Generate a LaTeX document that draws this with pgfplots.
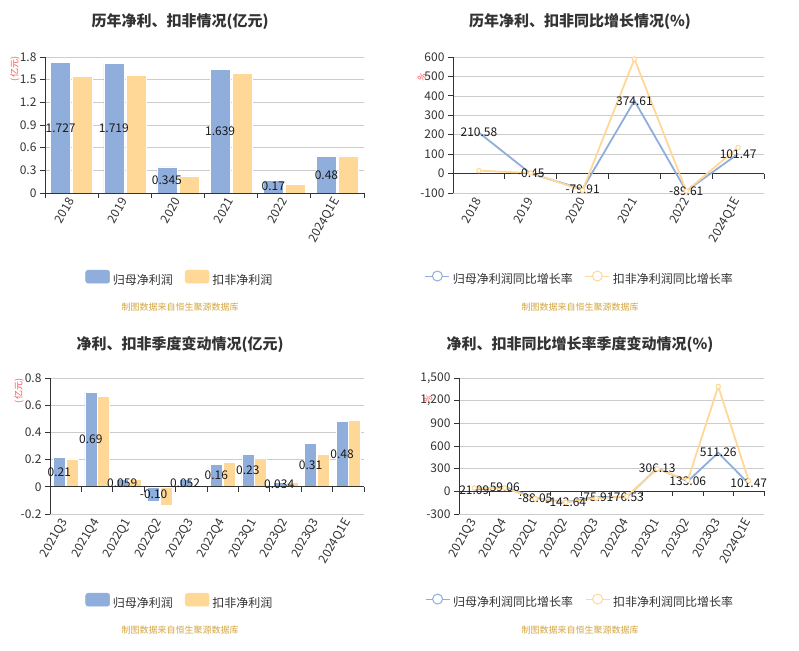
\documentclass[border=0pt]{standalone}
\usepackage{fontspec}
\usepackage{pgfplots}
\usepackage{pgfplotstable}
\pgfplotsset{compat=1.18}
\setmainfont{Noto Sans CJK SC}

\definecolor{cblue}{HTML}{8FAEDB}
\definecolor{corange}{HTML}{FFD898}
\definecolor{gridc}{HTML}{CCCCCC}
\definecolor{axisc}{HTML}{333333}
\definecolor{txt}{HTML}{333333}
\definecolor{labc}{HTML}{1A1A1A}
\definecolor{srcc}{HTML}{D4A43F}
\definecolor{unitc}{HTML}{FF4D4D}

\newcommand{\tk}{\fontsize{12}{14}\selectfont}
\newcommand{\ttl}{\fontsize{15}{18}\selectfont\bfseries}
\newcommand{\src}{\fontsize{9}{11}\selectfont}

% yearly profit (100m yuan)
\pgfplotstableread{
x a la b
0 1.727 1.727 1.548
1 1.719 1.719 1.557
2 0.345 0.345 0.225
3 1.639 1.639 1.579
4 0.17  0.17  0.115
5 0.48  0.48  0.49
}\yearly

% yearly growth (%)
\pgfplotstableread{
x a la b
0 210.58 210.58 15
1 -0.45  -0.45  3
2 -79.91 -79.91 -86
3 374.61 374.61 590
4 -89.61 -89.61 -90
5 101.47 101.47 134
}\yearlyg

% quarterly profit (100m yuan)
\pgfplotstableread{
x a la b
0 0.216 0.21 0.206
1 0.695 0.69 0.667
2 0.059 0.059 0.052
3 -0.103 -0.10 -0.137
4 0.052 0.052 0.015
5 0.164 0.16 0.184
6 0.238 0.23 0.213
7 0.034 0.034 0.037
8 0.317 0.31 0.243
9 0.481 0.48 0.488
}\quarterly

% quarterly growth (%)
\pgfplotstableread{
x a la b
0 21.09 21.09 45
1 59.06 59.06 44
2 -88.05 -88.05 -97
3 -142.64 -142.64 -146
4 -75.91 -75.91 -93
5 -76.53 -76.53 -66
6 306.13 306.13 296
7 133.06 133.06 146
8 511.26 511.26 1388
9 101.47 101.47 140
}\quarterlyg

\pgfplotsset{
  panel/.style={
    scale only axis,
    axis lines*=left,
    x axis line style={draw=none},
    y axis line style={color=axisc, line width=0.8pt},
    xtick style={draw=none},
    ytick style={color=axisc, line width=0.8pt},
    tick align=outside,
    major tick length=5pt,
    ymajorgrids,
    grid style={gridc, line width=0.6pt},
    xticklabel style={rotate=60, anchor=east, font=\tk, text=txt, inner sep=1pt},
    yticklabel style={font=\tk, text=txt},
    /pgf/number format/assume math mode=true,
    clip=false,
    legend style={draw=none, fill=none, anchor=center, legend columns=2,
      font=\tk, text=txt,
      /tikz/every even column/.append style={column sep=10pt},
      /tikz/every odd column/.append style={column sep=1pt}},
  },
  barlab/.style={draw=none, mark=none, forget plot, nodes near coords,
    point meta=explicit symbolic,
    every node near coord/.append style={xshift=#1, anchor=center, font=\tk, text=labc, inner sep=0pt}},
  linelab/.style={nodes near coords, point meta=explicit symbolic,
    every node near coord/.append style={anchor=center, font=\tk, text=labc, inner sep=0pt}},
  bluebar/.style={ybar, fill=cblue, draw=white, line width=0.5pt,
    legend image code/.code={\fill[cblue, rounded corners=2.5pt] (0pt,-3pt) rectangle (24pt,10pt);}},
  orangebar/.style={ybar, fill=corange, draw=white, line width=0.5pt,
    legend image code/.code={\fill[corange, rounded corners=2.5pt] (0pt,-3pt) rectangle (24pt,10pt);}},
  blueline/.style={cblue, line width=1.8pt, mark=none,
    legend image code/.code={\draw[cblue, line width=1pt] (0pt,3.5pt) -- (24pt,3.5pt);
      \draw[cblue, line width=1pt, fill=white] (12pt,3.5pt) circle (5pt);}},
  orangeline/.style={corange, line width=1.8pt, mark=*, mark size=2.2pt,
    mark options={fill=white, draw=corange, line width=1pt},
    legend image code/.code={\draw[corange, line width=1pt] (0pt,3.5pt) -- (24pt,3.5pt);
      \draw[corange, line width=1pt, fill=white] (12pt,3.5pt) circle (5pt);}},
}

\begin{document}
\begin{tikzpicture}
\path[use as bounding box] (0,0) rectangle (799pt,650pt);

% titles, units and source notes
\node[font=\ttl, text=txt] at (180pt,628pt) {历年净利、扣非情况(亿元)};
\node[font=\ttl, text=txt] at (580pt,628pt) {历年净利、扣非同比增长情况(\%)};
\node[font=\ttl, text=txt] at (180pt,305pt) {净利、扣非季度变动情况(亿元)};
\node[font=\ttl, text=txt] at (580pt,305pt) {净利、扣非同比增长率季度变动情况(\%)};
\node[font=\src, text=srcc] at (180pt,343pt) {制图数据来自恒生聚源数据库};
\node[font=\src, text=srcc] at (580pt,343pt) {制图数据来自恒生聚源数据库};
\node[font=\src, text=srcc] at (180pt,20pt) {制图数据来自恒生聚源数据库};
\node[font=\src, text=srcc] at (580pt,20pt) {制图数据来自恒生聚源数据库};
\node[font=\src, text=unitc, rotate=90] at (15pt,581pt) {(亿元)};
\node[font=\src, text=unitc, rotate=90] at (19pt,259pt) {(亿元)};
\node[font=\src, text=unitc, rotate=50] at (422pt,573pt) {\%};
\node[font=\src, text=unitc, rotate=50] at (428pt,251pt) {\%};

% top left
\begin{axis}[panel, at={(45pt,457pt)}, anchor=south west, width=319pt, height=136pt,
  xmin=-0.5, xmax=5.5, ymin=0, ymax=1.8,
  ytick={0,0.3,0.6,0.9,1.2,1.5,1.8},
  xtick={0,...,5}, xticklabels={2018,2019,2020,2021,2022,2024Q1E},
  legend style={at={(axis description cs:0.423,-0.632)}}]
  \addplot[bluebar, bar width=20pt, bar shift=-11pt] table[x=x, y=a] {\yearly};
  \addplot[barlab=-11pt] table[x=x, y expr=\thisrow{a}/2, meta=la] {\yearly};
  \addplot[orangebar, bar width=20pt, bar shift=11pt] table[x=x, y=b] {\yearly};
  \legend{归母净利润,扣非净利润}
  \draw[axisc, line width=0.8pt] (axis cs:-0.5,0) -- (axis cs:5.5,0);
  \pgfplotsinvokeforeach{-0.5,0.5,...,5.5}{\draw[axisc, line width=0.8pt] (axis cs:#1,0) -- ++(0pt,-5pt);}
\end{axis}

% top right
\begin{axis}[panel, at={(453pt,457pt)}, anchor=south west, width=311pt, height=136pt,
  xmin=-0.5, xmax=5.5, ymin=-100, ymax=600,
  ytick={-100,0,...,600},
  xtick={0,...,5}, xticklabels={2018,2019,2020,2021,2022,2024Q1E},
  legend style={at={(axis description cs:0.408,-0.632)}}]
  \draw[axisc, line width=0.8pt] (axis cs:-0.5,0) -- (axis cs:5.5,0);
  \pgfplotsinvokeforeach{-0.5,0.5,...,5.5}{\draw[axisc, line width=0.8pt] (axis cs:#1,0) -- ++(0pt,-5pt);}
  \addplot[blueline, linelab] table[x=x, y=a, meta=la] {\yearlyg};
  \addplot[orangeline] table[x=x, y=b] {\yearlyg};
  \legend{归母净利润同比增长率,扣非净利润同比增长率}
\end{axis}

% bottom left
\begin{axis}[panel, at={(50pt,136pt)}, anchor=south west, width=314pt, height=136pt,
  xmin=-0.5, xmax=9.5, ymin=-0.2, ymax=0.8,
  ytick={-0.2,0,0.2,0.4,0.6,0.8},
  xtick={0,...,9}, xticklabels={2021Q3,2021Q4,2022Q1,2022Q2,2022Q3,2022Q4,2023Q1,2023Q2,2023Q3,2024Q1E},
  legend style={at={(axis description cs:0.414,-0.647)}}]
  \addplot[bluebar, bar width=12pt, bar shift=-6.3pt] table[x=x, y=a] {\quarterly};
  \addplot[barlab=-6.3pt] table[x=x, y expr=\thisrow{a}/2, meta=la] {\quarterly};
  \addplot[orangebar, bar width=12pt, bar shift=6.3pt] table[x=x, y=b] {\quarterly};
  \legend{归母净利润,扣非净利润}
  \draw[axisc, line width=0.8pt] (axis cs:-0.5,0) -- (axis cs:9.5,0);
  \pgfplotsinvokeforeach{-0.5,0.5,...,9.5}{\draw[axisc, line width=0.8pt] (axis cs:#1,0) -- ++(0pt,-5pt);}
\end{axis}

% bottom right
\begin{axis}[panel, at={(459pt,136pt)}, anchor=south west, width=305pt, height=136pt,
  xmin=-0.5, xmax=9.5, ymin=-300, ymax=1500,
  ytick={-300,0,...,1500},
  xtick={0,...,9}, xticklabels={2021Q3,2021Q4,2022Q1,2022Q2,2022Q3,2022Q4,2023Q1,2023Q2,2023Q3,2024Q1E},
  legend style={at={(axis description cs:0.397,-0.647)}}]
  \draw[axisc, line width=0.8pt] (axis cs:-0.5,0) -- (axis cs:9.5,0);
  \pgfplotsinvokeforeach{-0.5,0.5,...,9.5}{\draw[axisc, line width=0.8pt] (axis cs:#1,0) -- ++(0pt,-5pt);}
  \addplot[blueline, linelab] table[x=x, y=a, meta=la] {\quarterlyg};
  \addplot[orangeline] table[x=x, y=b] {\quarterlyg};
  \legend{归母净利润同比增长率,扣非净利润同比增长率}
\end{axis}
\end{tikzpicture}
\end{document}
